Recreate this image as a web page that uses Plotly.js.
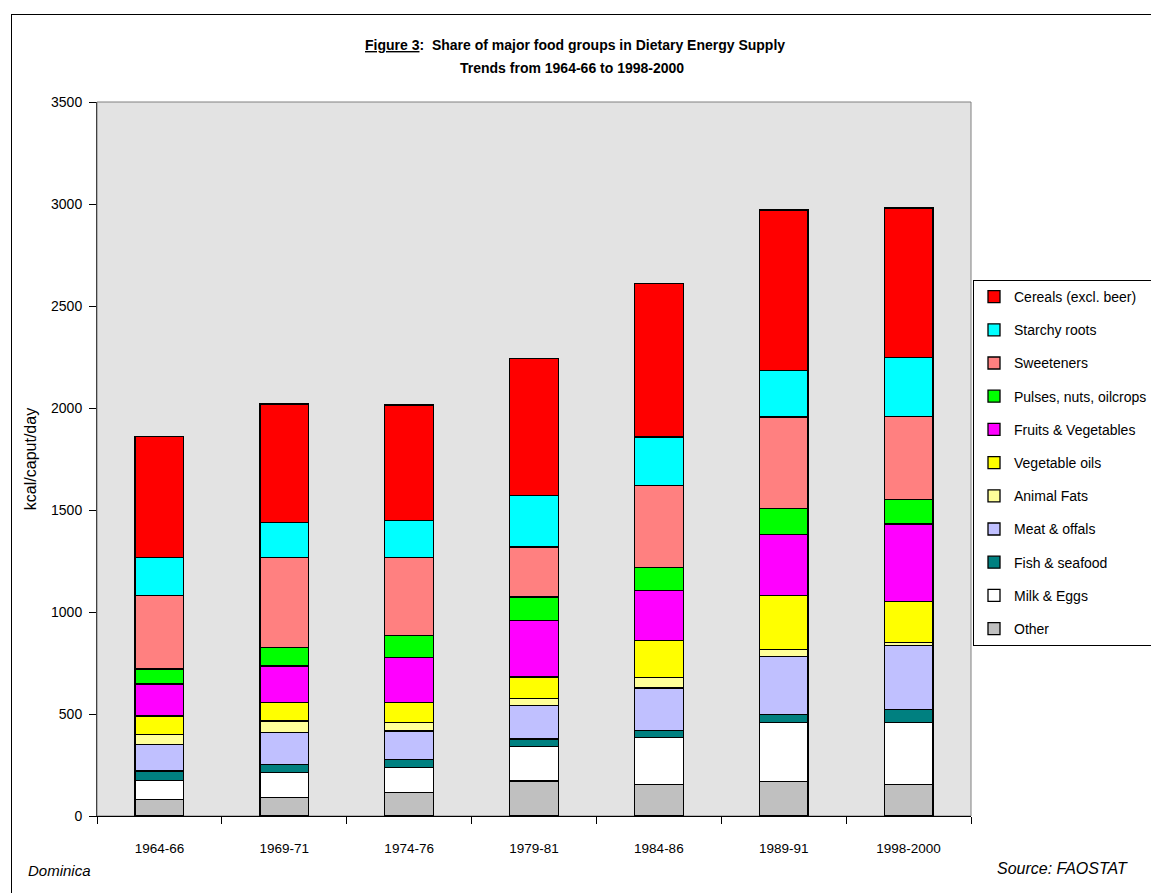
<!DOCTYPE html>
<html>
<head>
<meta charset="utf-8">
<script src="https://cdn.plot.ly/plotly-3.0.1.min.js"></script>
<style>
  html, body { margin: 0; padding: 0; background: #ffffff; overflow: hidden; }
  #chart { width: 1151px; height: 893px; position: absolute; left: 0; top: 0; }
  #frame { position: absolute; left: 11px; top: 14px; width: 2000px; height: 2000px;
           border: 1px solid #000; pointer-events: none; }
</style>
</head>
<body>
<div id="chart"></div>
<div id="frame"></div>
<script>
// ---- data (kcal/caput/day) ----
const periods = ["1964-66", "1969-71", "1974-76", "1979-81", "1984-86", "1989-91", "1998-2000"];

const other       = [82, 90, 114, 172, 155, 169, 155];
const milkEggs    = [91, 122, 123, 167, 229, 289, 303];
const fishSeafood = [48, 41, 41, 39, 35, 40, 64];
const meatOffals  = [130, 155, 139, 164, 209, 285, 314];
const animalFats  = [49, 58, 40, 34, 51, 33, 15];
const vegOils     = [90, 89, 98, 105, 180, 264, 202];
const fruitsVeg   = [157, 180, 221, 277, 246, 301, 378];
const pulses      = [73, 90, 108, 115, 113, 126, 122];
const sweeteners  = [360, 443, 384, 245, 403, 449, 407];
const starchy     = [188, 172, 180, 254, 237, 227, 287];
const cereals     = [591, 580, 567, 671, 754, 788, 733];

const seriesNames = ["Other", "Milk & Eggs", "Fish & seafood", "Meat & offals", "Animal Fats",
  "Vegetable oils", "Fruits & Vegetables", "Pulses, nuts, oilcrops", "Sweeteners",
  "Starchy roots", "Cereals (excl. beer)"];
const seriesValues = [other, milkEggs, fishSeafood, meatOffals, animalFats, vegOils,
  fruitsVeg, pulses, sweeteners, starchy, cereals];
const seriesColors = ["#c0c0c0", "#ffffff", "#008080", "#c0c0ff", "#ffff99", "#ffff00",
  "#ff00ff", "#00ff00", "#ff8080", "#00ffff", "#ff0000"];

const yTicks = [0, 500, 1000, 1500, 2000, 2500, 3000, 3500];

const titleLine1 = "<u>Figure 3</u>:  Share of major food groups in Dietary Energy Supply";
const titleLine2 = "Trends from 1964-66 to 1998-2000";

const FONT = "Liberation Sans, Arial, sans-serif";

const traces = seriesNames.map((name, i) => ({
  type: "bar",
  name: name,
  x: periods,
  y: seriesValues[i],
  legendgroup: "g" + i,
  legendrank: seriesNames.length - i,
  marker: { color: seriesColors[i], line: { color: "#000000", width: 1.3 } },
  hoverinfo: "name+y"
}));

// helpers: pixel -> paper coordinates (plot area 97..971 x 102..816)
const PL = 97, PR = 971, PT = 102, PB = 816;
const px = v => (v - PL) / (PR - PL);
const py = v => (PB - v) / (PB - PT);

const layout = {
  width: 1151,
  height: 893,
  margin: { l: PL, r: 1151 - PR, t: PT, b: 893 - PB, pad: 0 },
  paper_bgcolor: "#ffffff",
  plot_bgcolor: "#e3e3e3",
  barmode: "stack",
  bargap: 0.61,
  font: { family: FONT, size: 14, color: "#000000" },
  xaxis: {
    type: "category",
    tickson: "boundaries",
    ticks: "outside",
    ticklen: 7,
    tickcolor: "#000000",
    tickwidth: 1,
    showline: true,
    linecolor: "#000000",
    linewidth: 1,
    showgrid: false,
    zeroline: false,
    tickfont: { family: FONT, size: 13.5 },
    ticklabelstandoff: 20
  },
  yaxis: {
    range: [0, 3500],
    tickvals: yTicks,
    ticktext: yTicks.map(String),
    ticks: "outside",
    ticklen: 7,
    tickcolor: "#000000",
    showline: true,
    linecolor: "#404040",
    linewidth: 1,
    showgrid: false,
    zeroline: false,
    tickfont: { family: FONT, size: 14 },
    ticklabelstandoff: 4,
    title: { text: "kcal/caput/day", font: { family: FONT, size: 16 }, standoff: 10 }
  },
  shapes: [{
    type: "rect", xref: "paper", yref: "paper", x0: 0, x1: 1, y0: 0, y1: 1,
    line: { color: "#808080", width: 1 }, fillcolor: "rgba(0,0,0,0)", layer: "below"
  }],
  legend: {
    xref: "container", yref: "container",
    x: 973 / 1151, xanchor: "left",
    y: (893 - 280) / 893, yanchor: "top",
    bgcolor: "#ffffff",
    bordercolor: "#000000",
    borderwidth: 1,
    traceorder: "grouped",
    tracegroupgap: 12,
    itemwidth: 30,
    font: { family: FONT, size: 14, color: "#000000" }
  },
  annotations: [
    { text: "<b>" + titleLine1 + "</b>", xref: "paper", yref: "paper",
      x: px(575), y: py(45), xanchor: "center", yanchor: "middle",
      showarrow: false, font: { family: FONT, size: 14 } },
    { text: "<b>" + titleLine2 + "</b>", xref: "paper", yref: "paper",
      x: px(572), y: py(68), xanchor: "center", yanchor: "middle",
      showarrow: false, font: { family: FONT, size: 14 } },
    { text: "<i>Dominica</i>", xref: "paper", yref: "paper",
      x: px(26), y: py(870), xanchor: "left", yanchor: "middle",
      showarrow: false, font: { family: FONT, size: 15 } },
    { text: "<i>Source: FAOSTAT</i>", xref: "paper", yref: "paper",
      x: px(1130), y: py(868), xanchor: "right", yanchor: "middle",
      showarrow: false, font: { family: FONT, size: 16 } }
  ]
};

Plotly.newPlot("chart", traces, layout, { displayModeBar: false, staticPlot: true });
</script>
</body>
</html>
